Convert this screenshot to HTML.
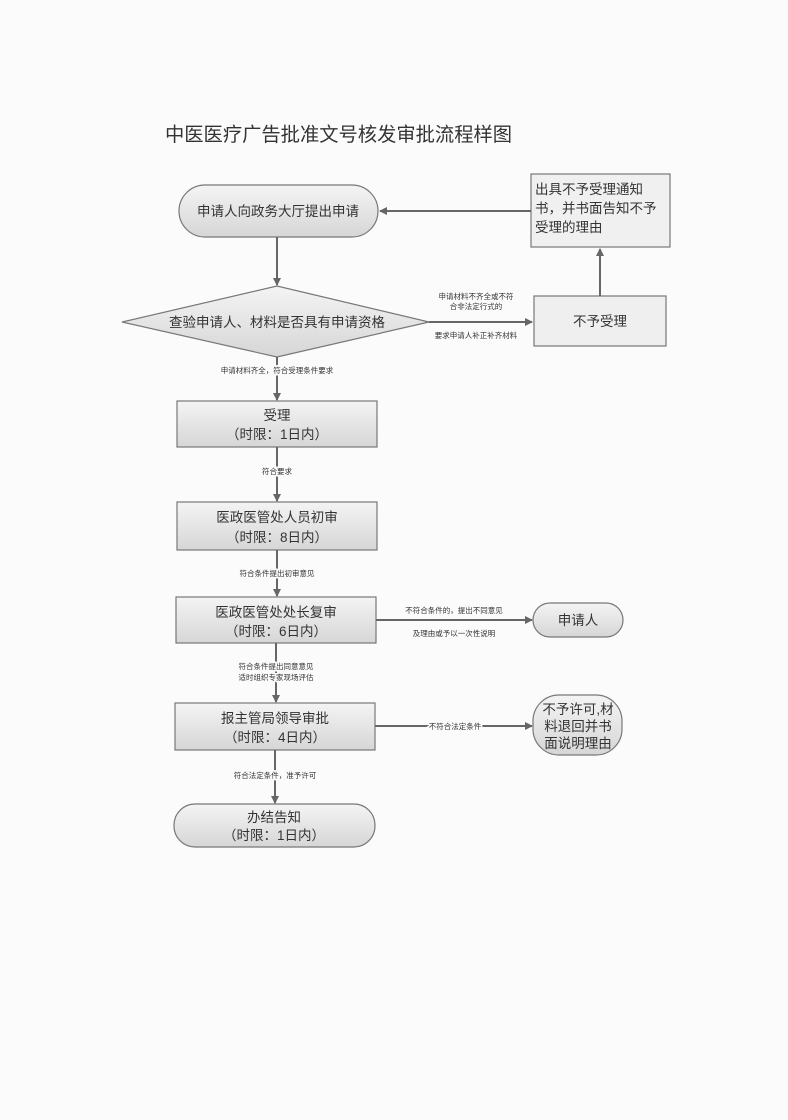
<!DOCTYPE html>
<html><head><meta charset="utf-8"><style>
html,body{margin:0;padding:0;background:#fbfbfb;}
svg{display:block;}
text{font-family:"Liberation Sans","Noto Sans CJK SC",sans-serif;fill:#333;}
</style></head><body>
<svg width="788" height="1120" viewBox="0 0 788 1120" xmlns="http://www.w3.org/2000/svg">
<defs>
<linearGradient id="g" x1="0" y1="0" x2="0" y2="1">
<stop offset="0" stop-color="#f4f4f4"/><stop offset="1" stop-color="#d6d6d6"/></linearGradient>
<marker id="a" markerWidth="8" markerHeight="8" refX="7" refY="4" orient="auto" markerUnits="userSpaceOnUse">
<path d="M0,0 L8,4 L0,8 z" fill="#666"/></marker>
</defs>
<rect width="788" height="1120" fill="#fbfbfb"/>
<text x="165" y="141" font-size="19.3" fill="#444">中医医疗广告批准文号核发审批流程样图</text>

<g stroke="#777" stroke-width="1.2" fill="url(#g)">
<rect x="179" y="185" width="199" height="52" rx="26"/>
<rect x="531" y="174" width="139" height="73" fill="#f0f0f0"/>
<polygon points="122,322 277,286 429,322 277,357"/>
<rect x="534" y="296" width="132" height="50" fill="#efefef"/>
<rect x="177" y="401" width="200" height="46"/>
<rect x="177" y="502" width="200" height="48"/>
<rect x="176" y="597" width="200" height="46"/>
<rect x="175" y="703" width="200" height="47"/>
<rect x="174" y="804" width="201" height="43" rx="21"/>
<rect x="533" y="603" width="90" height="34" rx="17"/>
<rect x="533" y="695" width="89" height="60" rx="26"/>
</g>

<g stroke="#666" stroke-width="2" fill="none" marker-end="url(#a)">
<line x1="531" y1="211" x2="380" y2="211"/>
<line x1="600" y1="296" x2="600" y2="249"/>
<line x1="277" y1="237" x2="277" y2="285"/>
<line x1="429" y1="322" x2="532" y2="322"/>
<line x1="277" y1="357" x2="277" y2="400"/>
<line x1="277" y1="447" x2="277" y2="501"/>
<line x1="277" y1="550" x2="277" y2="596"/>
<line x1="276" y1="643" x2="276" y2="702"/>
<line x1="376" y1="620" x2="532" y2="620"/>
<line x1="375" y1="726" x2="532" y2="726"/>
<line x1="275" y1="750" x2="275" y2="803"/>
</g>

<g font-size="13.5" text-anchor="middle">
<text x="278" y="216">申请人向政务大厅提出申请</text>
<text x="277" y="327">查验申请人、材料是否具有申请资格</text>
<text x="600" y="326">不予受理</text>
<text x="277" y="420">受理</text>
<text x="277" y="439">（时限：1日内）</text>
<text x="277" y="522">医政医管处人员初审</text>
<text x="277" y="542">（时限：8日内）</text>
<text x="276" y="617">医政医管处处长复审</text>
<text x="276" y="636">（时限：6日内）</text>
<text x="275" y="723">报主管局领导审批</text>
<text x="275" y="742">（时限：4日内）</text>
<text x="274" y="822">办结告知</text>
<text x="274" y="840">（时限：1日内）</text>
<text x="578" y="625">申请人</text>
<text x="578" y="714">不予许可,材</text>
<text x="578" y="731">料退回并书</text>
<text x="578" y="748">面说明理由</text>
</g>
<g font-size="13.5">
<text x="535" y="194">出具不予受理通知</text>
<text x="535" y="213">书，并书面告知不予</text>
<text x="535" y="232">受理的理由</text>
</g>
<g font-size="7.5" text-anchor="middle" fill="#555" style="paint-order:stroke" stroke="#fbfbfb" stroke-width="3">
<text x="476" y="299">申请材料不齐全或不符</text>
<text x="476" y="309">合非法定行式的</text>
<text x="476" y="338">要求申请人补正补齐材料</text>
<text x="277" y="373">申请材料齐全，符合受理条件要求</text>
<text x="277" y="474">符合要求</text>
<text x="277" y="576">符合条件提出初审意见</text>
<text x="276" y="669">符合条件提出同意意见</text>
<text x="276" y="680">适时组织专家现场评估</text>
<text x="454" y="613">不符合条件的，提出不同意见</text>
<text x="454" y="636">及理由或予以一次性说明</text>
<text x="455" y="729">不符合法定条件</text>
<text x="275" y="778">符合法定条件，准予许可</text>
</g>
</svg>
</body></html>
